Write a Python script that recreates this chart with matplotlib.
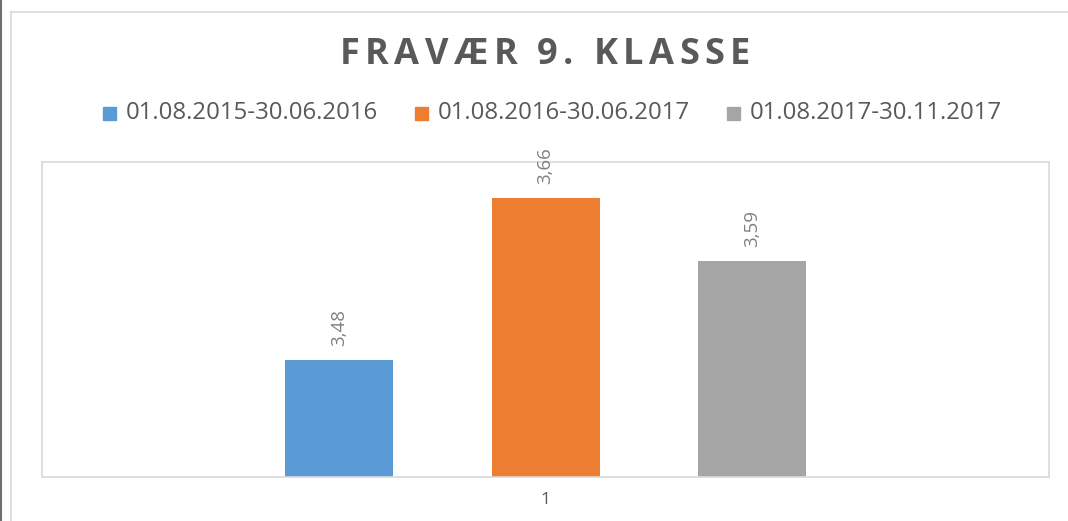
import matplotlib
matplotlib.use("Agg")
import matplotlib.pyplot as plt
from matplotlib.lines import Line2D
from matplotlib.patches import Rectangle

# ---- data ----
title = "FRAVÆR 9. KLASSE"
series_names = ["01.08.2015-30.06.2016", "01.08.2016-30.06.2017", "01.08.2017-30.11.2017"]
values = [3.48, 3.66, 3.59]
category_labels = ["1"]
colors = ["#5B9BD5", "#ED7D31", "#A5A5A5"]
y_min, y_max = 3.35, 3.70

W, H = 1068, 521
fig = plt.figure(figsize=(W / 100, H / 100), dpi=100)
fig.patch.set_facecolor("white")

def fx(px):
    return px / W

def fy(py):
    return 1 - py / H

# outer decorations
fig.add_artist(Line2D([fx(0.5), fx(0.5)], [0, 1], color="#707070", lw=1.5, transform=fig.transFigure))
fig.add_artist(Line2D([fx(10.5), fx(10.5)], [0, fy(12)], color="#d9d9d9", lw=1.2, transform=fig.transFigure))
fig.add_artist(Line2D([fx(10.5), 1], [fy(12), fy(12)], color="#d9d9d9", lw=1.2, transform=fig.transFigure))

# plot area
left, right, top, bottom = 42, 1049, 162, 477
ax = fig.add_axes([fx(left), fy(bottom), fx(right - left), (bottom - top) / H])
ax.set_xlim(-0.5, 0.5)
ax.set_ylim(y_min, y_max)

bar_w = 108 / (right - left)
step = 206.5 / (right - left)
n = len(values)
for i, (v, c) in enumerate(zip(values, colors)):
    x = (i - (n - 1) / 2) * step
    ax.bar(x, v - y_min, bottom=y_min, width=bar_w, color=c, zorder=2)
    ax.annotate(f"{v:.2f}".replace(".", ","), xy=(x, v), xytext=(0, 10),
                textcoords="offset points", ha="center", va="bottom", rotation=90,
                fontsize=13.5, color="#808080", family="Open Sans")

ax.set_xticks([0])
ax.set_xticklabels(category_labels, fontsize=12.5, color="#595959", family="Open Sans")
ax.tick_params(axis="x", length=0, pad=11)
ax.set_yticks([])
for s in ax.spines.values():
    s.set_color("#d9d9d9")
    s.set_linewidth(1.2)

# legend (manual to match placement)
leg_sq = [103, 415, 727]
for sx, name, c in zip(leg_sq, series_names, colors):
    fig.add_artist(Rectangle((fx(sx), fy(120)), fx(13), 13 / H, color=c, transform=fig.transFigure))
    fig.text(fx(sx + 23), fy(113), name, ha="left", va="center", fontsize=17.3,
             color="#595959", family="Open Sans")

# title with letter spacing
fig.canvas.draw()
renderer = fig.canvas.get_renderer()
spacing = 5.5
chars = []
widths = []
for ch in title:
    t = fig.text(0, fy(55), ch, fontsize=26, fontweight="bold", color="#595959",
                 family="Open Sans", ha="left", va="center")
    bb = t.get_window_extent(renderer)
    w = bb.width
    if ch == " ":
        w = 9
    chars.append(t)
    widths.append(w)
total = sum(widths) + spacing * (len(chars) - 1)
x0 = 545 - total / 2
for t, w in zip(chars, widths):
    t.set_x(fx(x0))
    x0 += w + spacing

fig.savefig("out.png", dpi=100)
